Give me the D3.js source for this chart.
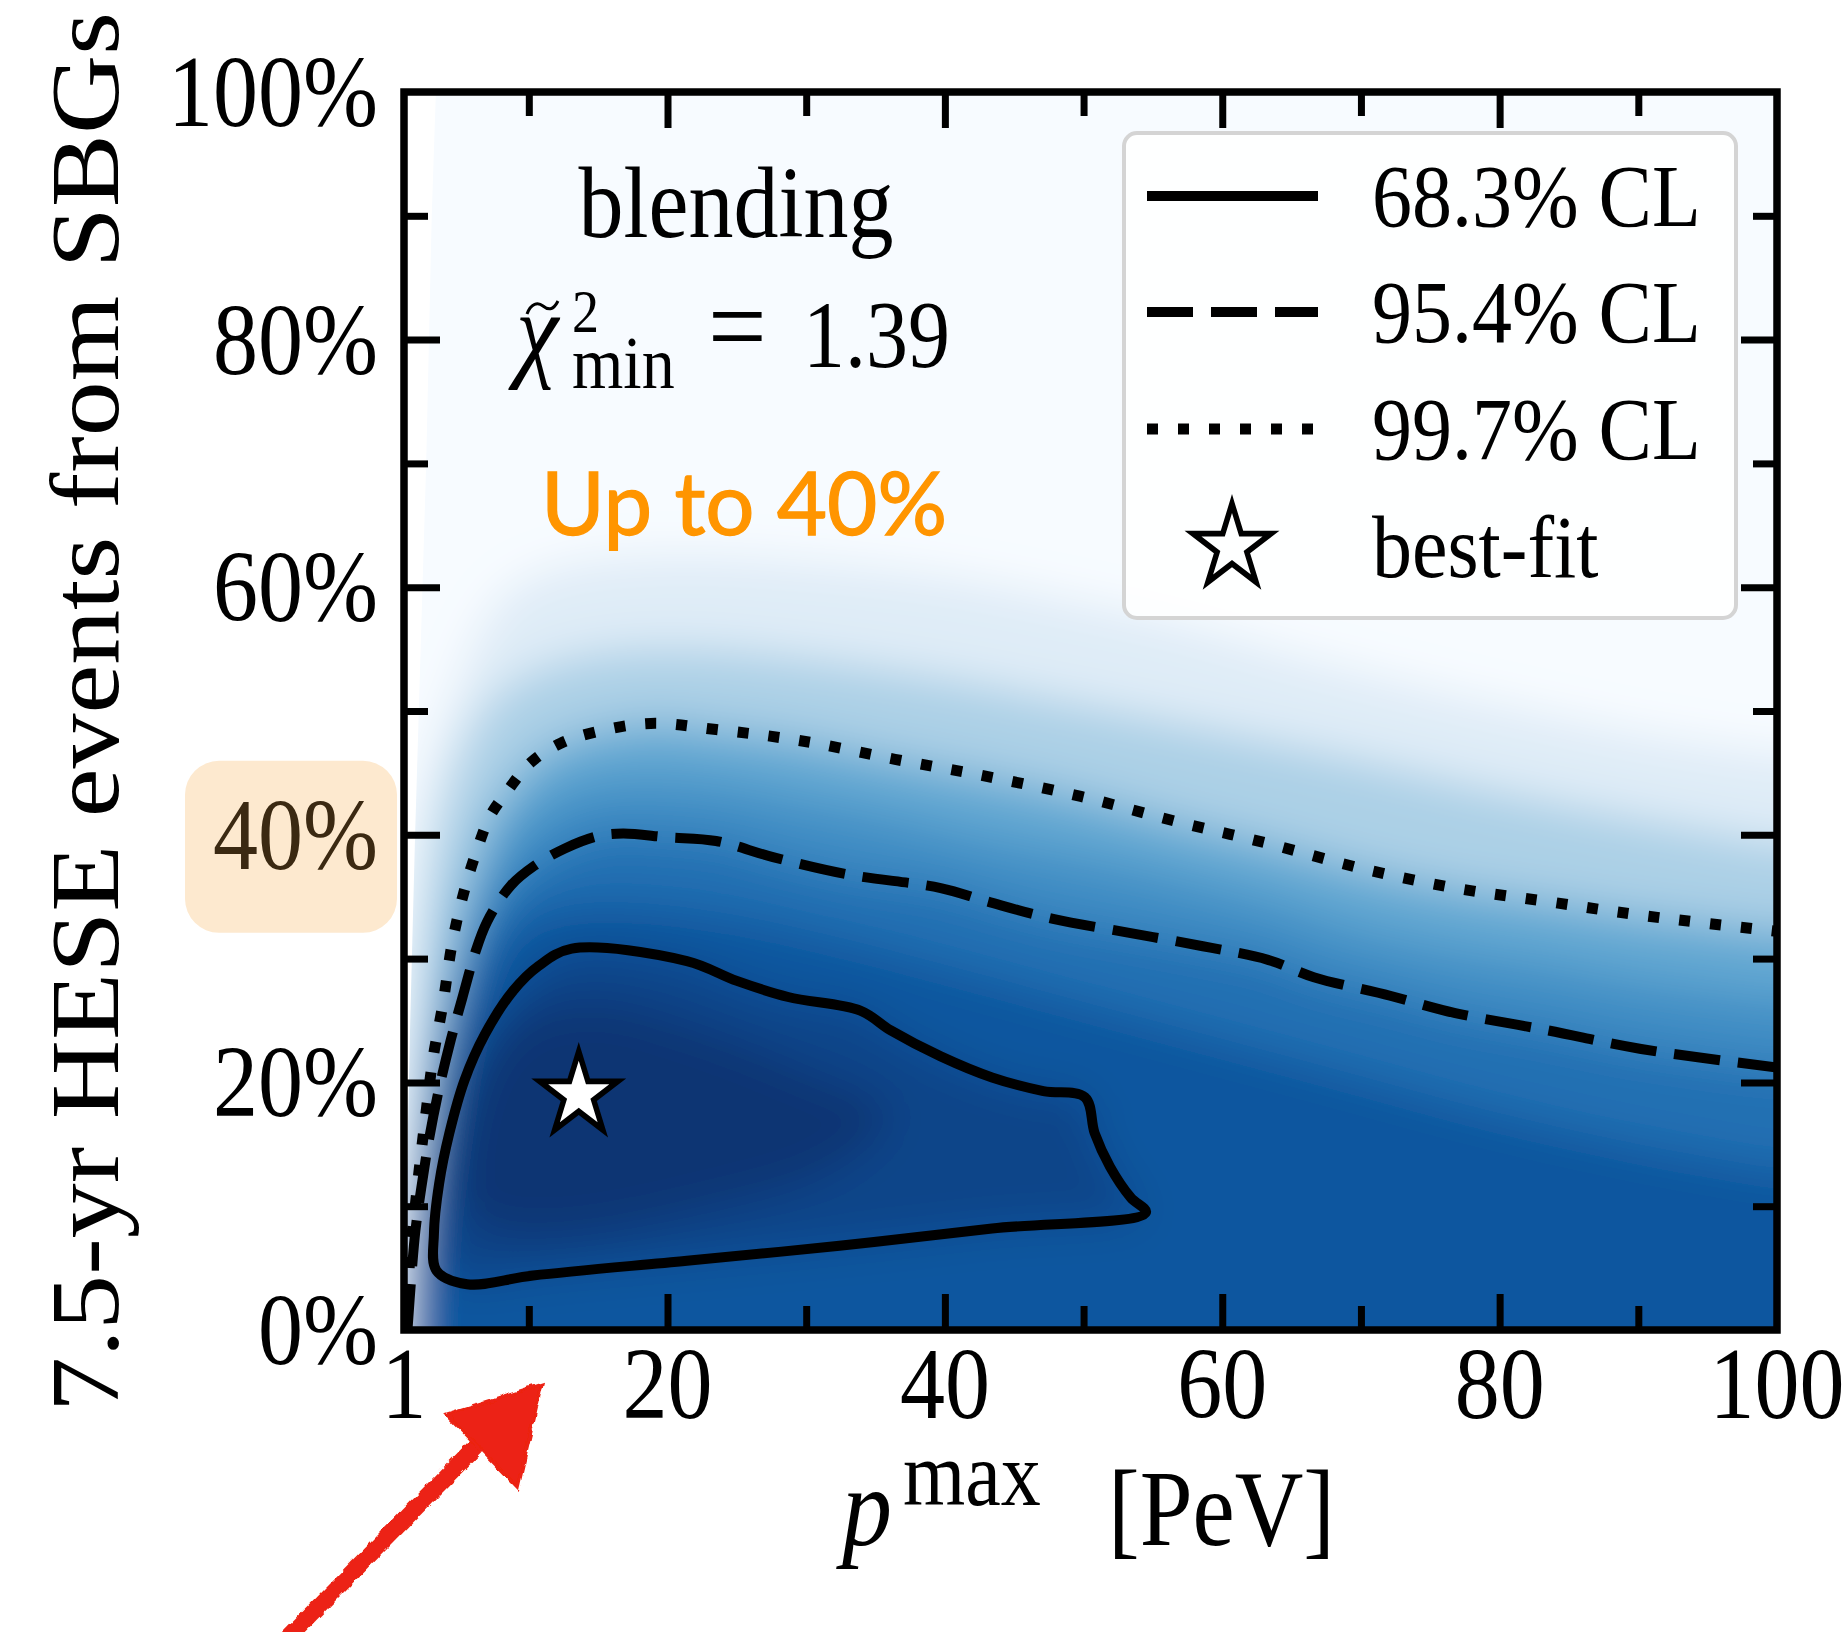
<!DOCTYPE html>
<html>
<head>
<meta charset="utf-8">
<script src="https://cdn.jsdelivr.net/npm/d3@7"></script>
<style>
body { margin: 0; background: #fff; }
svg { display: block; }
svg text { font-family: "Liberation Serif", "Times New Roman", serif; fill: #000; }
</style>
</head>
<body>
<svg id="chart" width="1845" height="1632"></svg>
<script>
// axis ticks
var xMajor = [20, 40, 60, 80];
var xMinor = [10, 30, 50, 70, 90];
var xTickLabels = [1, 20, 40, 60, 80, 100];
var yMajor = [20, 40, 60, 80];
var yMinor = [10, 30, 50, 70, 90];
var yTickLabels = [0, 20, 40, 60, 80, 100];

// best fit point [p_max PeV, % of events]
var bestFit = [13.6, 19.0];

// confidence contours [p_max, %]
var cl683 = [[5.55, 3.7], [3.34, 4.8], [3.16, 7.8], [3.53, 11.8], [4.27, 15.9], [5.37, 20.2],
    [6.84, 23.9], [8.87, 27.4], [10.7, 29.4], [13.1, 30.8], [21.4, 29.8], [25.0, 28.2],
    [28.7, 26.9], [33.9, 25.8], [36.1, 24.2], [39.7, 22.1], [43.4, 20.4], [47.1, 19.3],
    [50.1, 18.8], [50.8, 15.9], [51.9, 13.2], [53.4, 10.7], [54.5, 9.5], [43.4, 8.2],
    [32.4, 6.8], [21.4, 5.6], [10.3, 4.4]];
var cl954 = [[1.25, 0], [1.53, 4.3], [1.82, 8.0], [2.25, 11.5], [2.82, 15.5], [3.53, 19.5],
    [4.39, 23.5], [5.25, 27.0], [6.08, 30.3], [7.0, 33.0], [8.7, 35.9], [10.4, 37.5],
    [12.6, 38.9], [15.0, 39.9], [16.8, 40.1], [20, 39.8], [23.5, 39.5], [27.6, 38.2],
    [33.0, 36.8], [39.7, 35.7], [43.1, 34.6], [47.8, 33.2], [53.2, 32.1], [58.6, 31.0],
    [63.3, 29.9], [66.6, 28.5], [72.1, 27.0], [76.8, 25.6], [83.5, 24.2], [90.2, 22.7],
    [100, 21.2]];
var cl997 = [[1.1, 0], [1.3, 3.3], [1.45, 6.5], [1.75, 9.4], [2.1, 13], [2.6, 17.7],
    [3.1, 22], [3.8, 26.3], [4.5, 31.4], [5.4, 35.7], [6.3, 38.9], [7.2, 41.5], [8.5, 43.6],
    [10.1, 45.8], [12.3, 47.4], [14.8, 48.3], [18.8, 49.0], [23.5, 48.5], [29.6, 47.6],
    [36.4, 46.1], [43.1, 44.7], [49.8, 43.1], [56.6, 41.1], [63.3, 39.3], [70, 37.3],
    [76.8, 35.7], [83.5, 34.6], [90.2, 33.5], [100, 32.2]];

// shading iso-lines estimated from the colour map
var shadeEdge = [[1.0, 4], [1.2, 15], [1.5, 28], [2.0, 40], [3.0, 46], [4.4, 50.5], [6.3, 56],
    [8.4, 59.5], [12, 61.5], [20, 62.5], [30, 62], [40, 60.8], [50, 58.7], [57, 57],
    [65, 54.5], [74, 52], [82, 50], [91, 48], [100, 46.5]];
var shadeQuarter = [[1.05, 0], [1.15, 8], [1.4, 18], [1.9, 28], [2.7, 36], [3.8, 42],
    [5.3, 47], [7.5, 51], [11, 53.5], [16, 54.8], [22, 55], [30, 54.2], [40, 52.6],
    [50, 50.5], [60, 48.3], [70, 46], [80, 43.5], [90, 41.3], [100, 39.3]];
var shadeMid = [[1.2, 0], [1.4, 5], [1.65, 9], [2.1, 13], [2.7, 17.5], [3.3, 21.5], [4.1, 25.5],
    [4.9, 29.5], [5.9, 33.3], [7.0, 36.5], [8.5, 39.5], [10.4, 41.8], [12.6, 43.3],
    [15.5, 44.2], [19, 44.4], [23.5, 44.0], [29, 42.9], [36, 41.4], [43, 39.6], [50, 38.1],
    [56.6, 36.5], [63.3, 34.6], [70, 32.2], [76.8, 30.6], [83.5, 29.4], [90.2, 28.1],
    [100, 26.7]];
var shadeDeep = [[2.2, 0], [2.4, 6], [2.9, 14], [3.8, 22], [5.5, 28.5], [8.5, 32.5],
    [12.5, 34.3], [18, 34.5], [25, 33.5], [32, 31.8], [40, 29.5], [50, 26.5], [60, 23.5],
    [70, 20.5], [80, 17.5], [90, 15], [100, 13]];
var shadeCore = [[5, 10], [4.8, 16], [6.5, 22], [10, 25.5], [15, 26.5], [22, 24.5], [30, 21],
    [36, 17.5], [32, 13], [22, 9.5], [12, 7.5], [7, 8]];
// Blues level inside each iso-line, outermost first
var shadeLevels = [0.12, 0.33, 0.53, 0.64, 0.76, 0.85, 0.92, 0.98];

// left strip with no colour-map data
var noDataEdge = [[1.0, -3], [1.2, 12], [1.45, 25], [1.8, 40], [2.2, 55], [2.6, 70], [3.0, 90], [3.3, 100], [3.35, 104]];

var legendLabels = ["68.3% CL", "95.4% CL", "99.7% CL", "best-fit"];

var W = 1845, H = 1632;
var K = 1.13; // the picture is stretched vertically a bit

var svg = d3.select("#chart");
var x = d3.scaleLinear().domain([1, 100]).range([404, 1777]);
var y = d3.scaleLinear().domain([0, 100]).range([1330, 92]);

var defs = svg.append("defs");
defs.append("clipPath").attr("id", "plotclip")
    .append("rect")
    .attr("x", x(1)).attr("y", y(100))
    .attr("width", x(100) - x(1)).attr("height", y(0) - y(100));

var soft = defs.append("filter").attr("id", "soft")
    .attr("filterUnits", "userSpaceOnUse")
    .attr("x", 0).attr("y", 0).attr("width", W).attr("height", H);
soft.append("feGaussianBlur").attr("stdDeviation", 22);

var rough = defs.append("filter").attr("id", "rough")
    .attr("filterUnits", "userSpaceOnUse")
    .attr("x", 0).attr("y", 0).attr("width", W).attr("height", H);
rough.append("feTurbulence").attr("type", "fractalNoise")
    .attr("baseFrequency", 0.09).attr("numOctaves", 2).attr("result", "noise");
rough.append("feDisplacementMap").attr("in", "SourceGraphic").attr("in2", "noise")
    .attr("scale", 6).attr("xChannelSelector", "R").attr("yChannelSelector", "G");

var curve = d3.line().x(function (d) { return x(d[0]); }).y(function (d) { return y(d[1]); })
    .curve(d3.curveCatmullRom.alpha(0.5));
var closedCurve = d3.line().x(function (d) { return x(d[0]); }).y(function (d) { return y(d[1]); })
    .curve(d3.curveCatmullRomClosed.alpha(0.5));

// open iso-line closed off below the frame and to the right
function openBand(pts) {
    var a = pts[0], b = pts[pts.length - 1];
    return curve(pts) + "L" + x(108) + "," + y(b[1]) + "L" + x(108) + "," + y(-8) +
        "L" + x(a[0]) + "," + y(-8) + "Z";
}

var plot = svg.append("g").attr("clip-path", "url(#plotclip)");

// colour map
var shade = plot.append("g").attr("filter", "url(#soft)");
shade.append("rect")
    .attr("x", x(-5)).attr("y", y(110))
    .attr("width", x(110) - x(-5)).attr("height", y(-10) - y(110))
    .attr("fill", d3.interpolateBlues(0));

var bandPaths = [openBand(shadeEdge), openBand(shadeQuarter), openBand(cl997), openBand(shadeMid),
    openBand(cl954), openBand(shadeDeep), closedCurve(cl683), closedCurve(shadeCore)];
shade.selectAll("path.band")
    .data(bandPaths)
    .join("path")
    .attr("class", "band")
    .attr("d", function (d) { return d; })
    .attr("fill", function (d, i) { return d3.interpolateBlues(shadeLevels[i]); });

plot.append("path")
    .attr("d", d3.line().x(function (d) { return x(d[0]); }).y(function (d) { return y(d[1]); })(noDataEdge) +
        "L" + x(-2) + "," + y(104) + "L" + x(-2) + "," + y(-3) + "Z")
    .attr("fill", "#fff");

// contour lines
plot.append("path")
    .attr("d", closedCurve(cl683))
    .attr("fill", "none").attr("stroke", "#000").attr("stroke-width", 10)
    .attr("stroke-linejoin", "round");
plot.append("path")
    .attr("d", curve(cl954))
    .attr("fill", "none").attr("stroke", "#000").attr("stroke-width", 10)
    .attr("stroke-dasharray", "46,18");
plot.append("path")
    .attr("d", curve(cl997))
    .attr("fill", "none").attr("stroke", "#000").attr("stroke-width", 11)
    .attr("stroke-dasharray", "11,20");

var star = d3.symbol().type(d3.symbolStar).size(41 * 41 / 0.8908130915292852);
plot.append("path")
    .attr("d", star())
    .attr("transform", "translate(" + x(bestFit[0]) + "," + y(bestFit[1]) + ") scale(1,1.06)")
    .attr("fill", "#fff").attr("stroke", "#000").attr("stroke-width", 5.5)
    .attr("stroke-linejoin", "miter");

// frame
svg.append("rect")
    .attr("x", x(1)).attr("y", y(100))
    .attr("width", x(100) - x(1)).attr("height", y(0) - y(100))
    .attr("fill", "none").attr("stroke", "#000").attr("stroke-width", 7.5);

// inward ticks on all four sides
function addTicks(axis, vals, len, tr) {
    var g = svg.append("g").attr("transform", tr)
        .call(axis.tickValues(vals).tickSize(-len).tickFormat(""));
    g.select(".domain").remove();
    g.selectAll("line").attr("stroke", "#000").attr("stroke-width", 7);
}
addTicks(d3.axisBottom(x), xMajor, 36, "translate(0," + y(0) + ")");
addTicks(d3.axisBottom(x), xMinor, 24, "translate(0," + y(0) + ")");
addTicks(d3.axisTop(x), xMajor, 36, "translate(0," + y(100) + ")");
addTicks(d3.axisTop(x), xMinor, 24, "translate(0," + y(100) + ")");
addTicks(d3.axisLeft(y), yMajor, 36, "translate(" + x(1) + ",0)");
addTicks(d3.axisLeft(y), yMinor, 24, "translate(" + x(1) + ",0)");
addTicks(d3.axisRight(y), yMajor, 36, "translate(" + x(100) + ",0)");
addTicks(d3.axisRight(y), yMinor, 24, "translate(" + x(100) + ",0)");

// highlight behind the 40% label
svg.append("rect")
    .attr("x", 185).attr("y", y(40) - 74)
    .attr("width", 212).attr("height", 172)
    .attr("rx", 34).attr("ry", 34)
    .attr("fill", "#fde9cf");

// tick labels
svg.append("g").selectAll("text")
    .data(yTickLabels)
    .join("text")
    .attr("transform", function (d) { return "translate(378," + (y(d) + 34) + ") scale(1," + K + ")"; })
    .attr("text-anchor", "end")
    .attr("font-size", 90)
    .style("fill", function (d) { return d === 40 ? "#3b2912" : "#000"; })
    .text(function (d) { return d + "%"; });

svg.append("g").selectAll("text")
    .data(xTickLabels)
    .join("text")
    .attr("transform", function (d) { return "translate(" + x(d) + ",1418) scale(1," + K + ")"; })
    .attr("text-anchor", "middle")
    .attr("font-size", 90)
    .text(function (d) { return d; });

// axis titles
svg.append("text")
    .attr("transform", "translate(118,712) rotate(-90)")
    .attr("text-anchor", "middle")
    .attr("font-size", 98)
    .attr("textLength", 1400)
    .attr("lengthAdjust", "spacingAndGlyphs")
    .text("7.5-yr HESE events from SBGs");

var xt = svg.append("text")
    .attr("transform", "translate(842,1545) scale(1," + K + ")")
    .attr("font-size", 100);
xt.append("tspan").attr("x", 0).attr("y", 0).attr("font-style", "italic").text("p");
xt.append("tspan").attr("x", 61).attr("y", -40 / K).attr("font-size", 80).text("max");
xt.append("tspan").attr("x", 266).attr("y", 0).attr("font-size", 95).text("[PeV]");

// in-plot annotations
svg.append("text")
    .attr("transform", "translate(736,237) scale(1," + K + ")")
    .attr("text-anchor", "middle")
    .attr("font-size", 90)
    .text("blending");

var chi = svg.append("text")
    .attr("transform", "translate(514,367) scale(1," + K + ")")
    .attr("font-size", 84);
chi.append("tspan").attr("x", 2).attr("y", 0).attr("font-size", 96).attr("font-style", "italic").text("\u03C7");
chi.append("tspan").attr("x", 58).attr("y", -35 / K).attr("font-size", 54).text("2");
chi.append("tspan").attr("x", 58).attr("y", 21 / K).attr("font-size", 66).text("min");
chi.append("tspan").attr("x", 194).attr("y", -2 / K).attr("font-size", 104).text("=");
chi.append("tspan").attr("x", 289).attr("y", 0).text("1.39");
// tilde accent over chi
svg.append("path")
    .attr("d", "M527,314 C531,303 538,302 543,306 C548,310 553,311 558,301")
    .attr("fill", "none").attr("stroke", "#000").attr("stroke-width", 3);

svg.append("text")
    .attr("transform", "translate(541,535) scale(1,1.08)")
    .attr("font-size", 80)
    .attr("textLength", 406).attr("lengthAdjust", "spacingAndGlyphs")
    .style("font-family", "Lato, 'Noto Sans', sans-serif")
    .style("fill", "#ff9500")
    .style("stroke", "#ff9500").style("stroke-width", 1.2)
    .text("Up to 40%");

// legend
var legend = svg.append("g");
legend.append("rect")
    .attr("x", 1124).attr("y", 133)
    .attr("width", 612).attr("height", 485)
    .attr("rx", 13).attr("ry", 13)
    .attr("fill", "#fff").attr("fill-opacity", 0.85)
    .attr("stroke", "#d4d4d4").attr("stroke-width", 4);

var rowY = [196, 312, 429, 547];
var handleDash = [null, "46,18", "11,20"];
for (var i = 0; i < 3; i++) {
    legend.append("line")
        .attr("x1", 1147).attr("x2", 1318)
        .attr("y1", rowY[i]).attr("y2", rowY[i])
        .attr("stroke", "#000").attr("stroke-width", i === 2 ? 11 : 10)
        .attr("stroke-dasharray", handleDash[i]);
}
legend.append("path")
    .attr("d", star())
    .attr("transform", "translate(1232," + rowY[3] + ") scale(1,1.06)")
    .attr("fill", "none").attr("stroke", "#000").attr("stroke-width", 5.5);

legend.selectAll("text.lab")
    .data(legendLabels)
    .join("text")
    .attr("class", "lab")
    .attr("transform", function (d, i) { return "translate(1372," + (rowY[i] + 30) + ") scale(1,1.1)"; })
    .attr("font-size", 80)
    .text(function (d) { return d; });

// hand-drawn red arrow
var arrow = svg.append("g").attr("filter", "url(#rough)");
arrow.append("path")
    .attr("d", "M284,1642 L486,1436")
    .attr("stroke", "#ec2312").attr("stroke-width", 17).attr("fill", "none");
arrow.append("path")
    .attr("d", "M446,1414 L542,1384 L518,1488 Z")
    .attr("fill", "#ec2312").attr("stroke", "#ec2312").attr("stroke-width", 3);
</script>
</body>
</html>
